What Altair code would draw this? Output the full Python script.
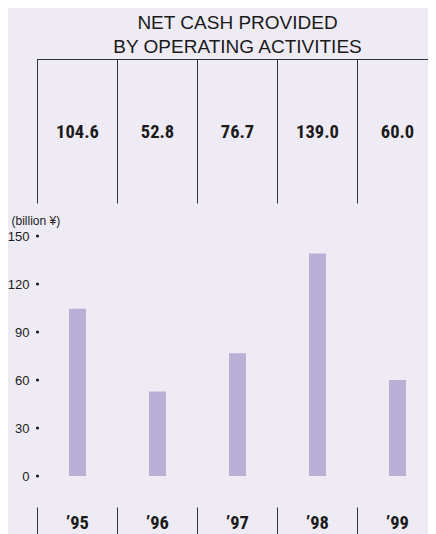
import altair as alt
import pandas as pd

# ---- data ----
years = ["’95", "’96", "’97", "’98", "’99"]
values = [104.6, 52.8, 76.7, 139.0, 60.0]
y_ticks = [0, 30, 60, 90, 120, 150]
title_lines = ["NET CASH PROVIDED", "BY OPERATING ACTIVITIES"]
unit_label = "(billion ¥)"

BG = "#EEEBF5"
BAR = "#BAAFD5"
INK = "#1a1a1a"
BOLD = "Liberation Sans Narrow, Roboto Condensed, Liberation Sans, Arial, sans-serif"
SANS = "Liberation Sans, Helvetica, Arial, sans-serif"

df = pd.DataFrame({"year": years, "value": values, "col": list(range(len(years)))})
ticks_df = pd.DataFrame({"t": y_ticks})
title_df = pd.DataFrame({"line": title_lines, "ypx": [-207.5, -183.5]})

PLOT_W = 390.5
STEP = 80
x_scale = alt.Scale(domain=[0, PLOT_W / STEP], nice=False, zero=False, padding=0)
y_scale = alt.Scale(domain=[0, 150], nice=False, padding=0)

base = alt.Chart(df).transform_calculate(center="datum.col + 0.5")

bars = base.mark_bar(size=17, color=BAR).encode(
    x=alt.X("center:Q", scale=x_scale, axis=None),
    y=alt.Y("value:Q", scale=y_scale,
            axis=alt.Axis(values=y_ticks, title=None, domain=False, ticks=False,
                          grid=False, labelPadding=8.5, labelFontSize=13,
                          labelFont=SANS, labelColor="#222222")),
)

dots = alt.Chart(ticks_df).mark_circle(size=10, color=INK, opacity=1).encode(
    x=alt.value(0),
    y=alt.Y("t:Q", scale=y_scale),
)

# table: value cells
cell_text = base.mark_text(font=BOLD, fontWeight="bold", fontSize=18.5,
                           color=INK, baseline="alphabetic").encode(
    x=alt.X("center:Q", scale=x_scale),
    y=alt.value(-97.7),
    text=alt.Text("value:Q", format=".1f"),
)

# table: vertical separators at the left edge of each column
cell_lines = base.mark_rule(color="#333333", strokeWidth=1).encode(
    x=alt.X("col:Q", scale=x_scale),
    y=alt.value(-176.5),
    y2=alt.value(-32.5),
)

top_line = base.mark_rule(color="#333333", strokeWidth=1).encode(
    x=alt.value(0), x2=alt.value(PLOT_W), y=alt.value(-176.5),
)

# bottom year labels and separators
year_text = base.mark_text(font=BOLD, fontWeight="bold", fontSize=18.5,
                           color=INK, baseline="alphabetic").encode(
    x=alt.X("center:Q", scale=x_scale),
    y=alt.value(293),
    text="year:N",
)

year_lines = base.mark_rule(color="#333333", strokeWidth=1).encode(
    x=alt.X("col:Q", scale=x_scale),
    y=alt.value(271.5),
    y2=alt.value(300),
)

title = alt.Chart(title_df).mark_text(font=SANS, fontSize=19, color=INK,
                                      baseline="alphabetic", align="center").encode(
    x=alt.value(200),
    y=alt.Y("ypx:Q", scale=None),
    text="line:N",
)

unit = alt.Chart(pd.DataFrame({"u": [unit_label]})).mark_text(
    font=SANS, fontSize=12, color="#222222", align="left", baseline="alphabetic"
).encode(x=alt.value(-26), y=alt.value(-11.5), text="u:N")

chart = alt.layer(
    bars, dots, cell_lines, top_line, cell_text, year_lines, year_text, title, unit
).properties(
    width=PLOT_W, height=240,
    autosize=alt.AutoSizeParams(type="none"),
    padding={"left": 29.5, "top": 228, "right": 0, "bottom": 58},
    background=BG,
).configure_view(stroke=None)

chart.save("out.html", embed_options={"renderer": "svg", "actions": False})
